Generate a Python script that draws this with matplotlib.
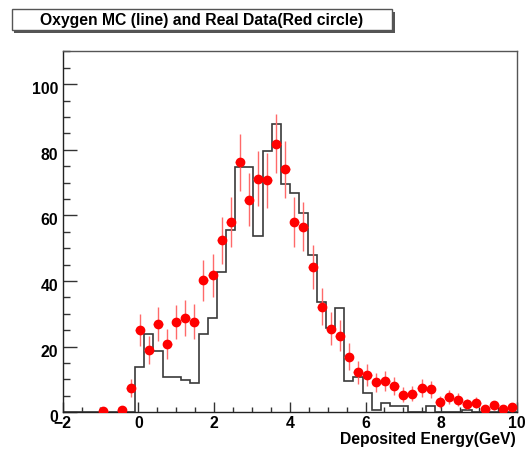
import numpy as np
import matplotlib
matplotlib.use("Agg")
import matplotlib.pyplot as plt
import matplotlib.transforms as mtransforms
from matplotlib.patches import Rectangle
from matplotlib.ticker import MultipleLocator

plt.rcParams["font.family"] = ["Liberation Sans", "DejaVu Sans"]
plt.rcParams["font.weight"] = "bold"

# ── data ─────────────────────────────────────────────────────────────────────
# MC histogram: 50 bins from -2 to 10 GeV
mc_edges = np.linspace(-2, 10, 51)
mc_counts = [0, 0, 0, 0, 0, 0, 0, 0,
             13.9, 23.8, 18.7, 10.9, 10.9, 9.8, 8.8, 23.8, 28.8, 42.9,
             55.7, 74.8, 74.8, 53.8, 79.7, 87.8, 69.6, 66.9, 60.8, 47.8,
             33.7, 25.6, 31.9, 9.6, 10.9, 5.8, 0.8, 2.8, 2.0, 2.0,
             0, 0, 1.8, 0, 0, 0, 0.8, 0, 0, 0, 0, 0]

# real data (red circles), bin centres
data_x = [-0.92, -0.44, -0.20, 0.04, 0.28, 0.52, 0.76, 1.00, 1.24, 1.48,
          1.72, 1.96, 2.20, 2.44, 2.68, 2.92, 3.16, 3.40, 3.64, 3.88,
          4.12, 4.36, 4.60, 4.84, 5.08, 5.32, 5.56, 5.80, 6.04, 6.28,
          6.52, 6.76, 7.00, 7.24, 7.48, 7.72, 7.96, 8.20, 8.44, 8.68,
          8.92, 9.16, 9.40, 9.64, 9.88]
data_y = [0.3, 0.8, 7.3, 25.1, 19.0, 26.8, 20.9, 27.4, 28.7, 27.6,
          40.2, 41.7, 52.4, 58.1, 76.2, 64.8, 71.2, 70.7, 81.8, 74.0,
          58.0, 56.6, 44.4, 32.2, 25.5, 23.4, 16.9, 12.2, 11.4, 9.1,
          9.6, 8.1, 5.4, 5.7, 7.3, 7.0, 3.1, 4.6, 3.9, 2.6,
          2.9, 1.1, 2.1, 1.1, 1.5]
data_err = [0.5, 0.9, 2.7, 5.0, 4.4, 5.2, 4.6, 5.2, 5.4, 5.3,
            6.3, 6.5, 7.2, 7.6, 8.7, 8.0, 8.4, 8.4, 9.0, 8.6,
            7.6, 7.5, 6.7, 5.7, 5.0, 4.8, 4.1, 3.5, 3.4, 3.0,
            3.1, 2.8, 2.3, 2.4, 2.7, 2.6, 1.8, 2.1, 2.0, 1.6,
            1.7, 1.0, 1.4, 1.0, 1.2]

title = "Oxygen MC (line) and Real Data(Red circle)"
xlabel = "Deposited Energy(GeV)"

# ── figure ───────────────────────────────────────────────────────────────────
W, H = 527, 452
fig = plt.figure(figsize=(W / 100, H / 100), dpi=100)
ax = fig.add_axes([62.6 / W, 1 - 413.3 / H, (517 - 62.6) / W, (413.3 - 52.3) / H])

ax.stairs(mc_counts, mc_edges, color="#3a3a3a", lw=1.2, baseline=0, zorder=2)
ax.errorbar(data_x, data_y, yerr=data_err, xerr=0.12, fmt="none",
            ecolor="#ff6a6a", elinewidth=1.0, capsize=0, zorder=3)
ax.plot(data_x, data_y, "o", color="#ff0000", ms=6, mec="#ff0000", zorder=4)

ax.set_xlim(-2, 10)
ax.set_ylim(0, 110)
ax.xaxis.set_major_locator(MultipleLocator(2))
ax.xaxis.set_minor_locator(MultipleLocator(0.5))
ax.yaxis.set_major_locator(MultipleLocator(20))
ax.yaxis.set_minor_locator(MultipleLocator(5))
ax.tick_params(axis="x", which="major", direction="in", length=7.2, width=1, pad=2, labelsize=11.3)
ax.tick_params(axis="x", which="minor", direction="in", length=3.6, width=1)
ax.tick_params(axis="y", which="major", direction="in", length=10, width=1, pad=3, labelsize=11.3)
ax.tick_params(axis="y", which="minor", direction="in", length=5, width=1)
ax.tick_params(top=False, right=False, which="both", color="#333333")

for lab in ax.get_yticklabels():
    lab.set_transform(lab.get_transform() + mtransforms.ScaledTranslation(0, -3 / 100, fig.dpi_scale_trans))
    lab.set_fontweight("bold")
for lab in ax.get_xticklabels():
    lab.set_fontweight("bold")

for side in ["left", "bottom"]:
    ax.spines[side].set_color("#222222")
    ax.spines[side].set_linewidth(1)
for side in ["top", "right"]:
    ax.spines[side].set_color("#555555")
    ax.spines[side].set_linewidth(1)

ax.text(0.997, (413.3 - 444.3) / 361, xlabel, transform=ax.transAxes,
        ha="right", va="baseline", fontsize=11.3, fontweight="bold")

# title box with shadow
bx0, bx1, by0, by1 = 11.7, 392, 10, 31
fig.add_artist(Rectangle((bx0 / W + 2.5 / W, 1 - by1 / H - 2.5 / H), (bx1 - bx0) / W, (by1 - by0) / H,
                         transform=fig.transFigure, facecolor="#555555", edgecolor="none"))
fig.add_artist(Rectangle((bx0 / W, 1 - by1 / H), (bx1 - bx0) / W, (by1 - by0) / H,
                         transform=fig.transFigure, facecolor="white", edgecolor="#555555", lw=1))
fig.text((bx0 + bx1) / 2 / W, 1 - 21 / H, title, ha="center", va="center",
         fontsize=11.3, fontweight="bold")

fig.savefig("out.png", dpi=100)
